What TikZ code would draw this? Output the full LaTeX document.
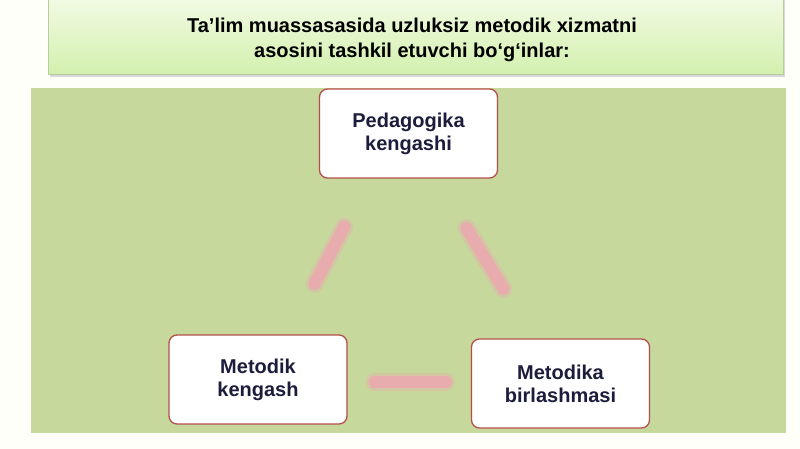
\documentclass[tikz,border=0pt]{standalone}
\usepackage{fontspec}
\setmainfont{Liberation Sans}
\usetikzlibrary{calc,shadows}
\definecolor{pagebg}{HTML}{FFFFFA}
\definecolor{panel}{HTML}{C6D89C}
\definecolor{titletop}{HTML}{F3FBE6}
\definecolor{titlebot}{HTML}{D3F0AE}
\definecolor{titleline}{HTML}{B9CCA0}
\definecolor{boxline}{HTML}{B4504C}
\definecolor{boxtext}{HTML}{1C1C3C}
\definecolor{linkpink}{HTML}{E8ABAE}
\tikzset{
  unitbox/.style={draw=boxline, line width=1.3pt, fill=white, rounded corners=8pt,
    minimum width=178pt, minimum height=89pt, align=center,
    font=\bfseries\fontsize{20}{23}\selectfont, text=boxtext, inner sep=0pt},
  linkglow/.style={draw=linkpink, opacity=0.4, line width=18pt, line cap=round},
  linkcore/.style={draw=linkpink, line width=12pt, line cap=round},
}
\begin{document}
\begin{tikzpicture}[x=1pt,y=-1pt]
\useasboundingbox (0,0) rectangle (800,449);
\fill[pagebg] (0,0) rectangle (800,449);
% title
\fill[black!25, opacity=0.6] (50,-5) rectangle (785,77);
\shade[top color=titletop, bottom color=titlebot, draw=titleline, line width=0.6pt]
  (48,-5) rectangle (783,74);
\node[font=\bfseries\fontsize{20}{25}\selectfont, align=center, text=black] (title) at (412,39.5)
  {Ta’lim muassasasida uzluksiz metodik xizmatni\\asosini tashkil etuvchi bo‘g‘inlar:};
% panel
\fill[panel] (31,88) rectangle (786,433);
% boxes
\node[unitbox] (ped) at (408.5,133.5) {Pedagogika\\kengashi};
\node[unitbox] (mk) at (258,379.5) {Metodik\\kengash};
\node[unitbox] (mb) at (560.5,383.5) {Metodika\\birlashmasi};
% connectors
\coordinate (pl) at ($(ped.south west)!0.28!(ped.south east)$);
\coordinate (pr) at ($(ped.south west)!0.656!(ped.south east)$);
\coordinate (mkt) at ($(mk.north west)!0.67!(mk.north east)$);
\coordinate (mbt) at ($(mb.north west)!0.35!(mb.north east)$);
\coordinate (mke) at ($(mk.east)+(0,2.5)$);
\coordinate (mbw) at ($(mb.west)+(0,-1.5)$);
\foreach \s in {linkglow,linkcore}{
  \draw[\s, shorten <=54pt, shorten >=57pt] (pl) -- (mkt);
  \draw[\s, shorten <=58pt, shorten >=58pt] (pr) -- (mbt);
  \draw[\s, shorten <=27pt, shorten >=25pt] (mke) -- (mbw);
}
\end{tikzpicture}
\end{document}
